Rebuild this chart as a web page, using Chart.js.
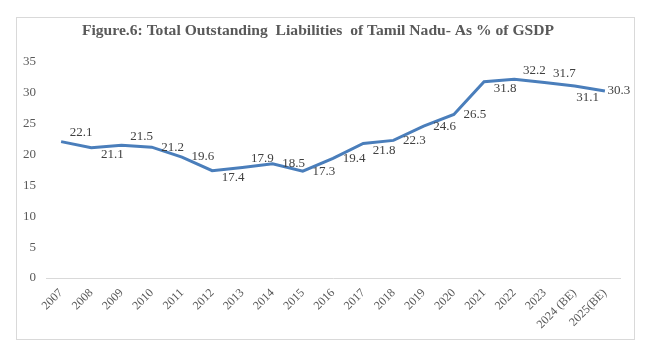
<!DOCTYPE html>
<html>
<head>
<meta charset="utf-8">
<script src="https://cdn.jsdelivr.net/npm/chart.js@4.4.1/dist/chart.umd.min.js"></script>
<style>
  html, body { margin: 0; padding: 0; background: #ffffff; }
  #wrap { position: relative; width: 653px; height: 357px; }
</style>
</head>
<body>
<div id="wrap"><canvas id="c" width="653" height="357"></canvas></div>
<script>
const categories = ['2007','2008','2009','2010','2011','2012','2013','2014','2015','2016','2017','2018','2019','2020','2021','2022','2023','2024 (BE)','2025(BE)'];
const liabilities = [22.1, 21.1, 21.5, 21.2, 19.6, 17.4, 17.9, 18.5, 17.3, 19.4, 21.8, 22.3, 24.6, 26.5, 31.8, 32.2, 31.7, 31.1, 30.3];
const valueLabels = ['22.1','21.1','21.5','21.2','19.6','17.4','17.9','18.5','17.3','19.4','21.8','22.3','24.6','26.5','31.8','32.2','31.7','31.1','30.3'];
const labelPlacement = ['ar','br','ar','r','r','br','ar','r','r','r','br','r','r','r','br','ar','ar','b','rn'];
const yTicks = [0, 5, 10, 15, 20, 25, 30, 35];
const chartTitle = 'Figure.6: Total Outstanding  Liabilities  of Tamil Nadu- As % of GSDP';

const placementOffsets = {
  r:  [21, 0],
  ar: [20, -9],
  br: [21, 7],
  b:  [13, 11],
  rn: [14, 0]
};

const borderPlugin = {
  id: 'frame',
  beforeDraw(chart) {
    const ctx = chart.ctx;
    ctx.save();
    ctx.fillStyle = '#ffffff';
    ctx.fillRect(0, 0, chart.width, chart.height);
    ctx.strokeStyle = '#d9d9d9';
    ctx.lineWidth = 1;
    ctx.strokeRect(16.5, 17.5, 618, 322);
    ctx.restore();
  }
};

const labelPlugin = {
  id: 'valueLabels',
  afterDatasetsDraw(chart) {
    const ctx = chart.ctx;
    const meta = chart.getDatasetMeta(0);
    ctx.save();
    ctx.font = '13px "Liberation Serif", "Times New Roman", serif';
    ctx.fillStyle = '#404040';
    ctx.textAlign = 'center';
    ctx.textBaseline = 'middle';
    meta.data.forEach((pt, i) => {
      const off = placementOffsets[labelPlacement[i]] || [21, 0];
      ctx.fillText(valueLabels[i], pt.x + off[0], pt.y + off[1]);
    });
    ctx.restore();
  }
};

new Chart(document.getElementById('c'), {
  type: 'line',
  data: {
    labels: categories,
    datasets: [{
      data: liabilities,
      borderColor: '#4a7ebb',
      borderWidth: 3,
      pointRadius: 0,
      pointHoverRadius: 0,
      tension: 0,
      fill: false
    }]
  },
  options: {
    responsive: false,
    animation: false,
    events: [],
    layout: { padding: { left: 16, right: 33, top: 21, bottom: 18 } },
    plugins: {
      legend: { display: false },
      tooltip: { enabled: false },
      title: {
        display: true,
        text: chartTitle,
        color: '#595959',
        font: { family: '"Liberation Serif", "Times New Roman", serif', size: 15.6, weight: 'bold', lineHeight: 1.2 },
        padding: { top: 0.5, bottom: 21.8 }
      }
    },
    scales: {
      x: {
        offset: true,
        grid: { display: false, drawTicks: false },
        border: { display: true, color: '#d9d9d9', width: 1 },
        ticks: {
          autoSkip: false,
          maxRotation: 45,
          minRotation: 45,
          padding: 8,
          color: '#595959',
          font: { family: '"Liberation Serif", "Times New Roman", serif', size: 12 }
        },
        afterFit(scale) { scale.height = 357 - 18 - 278; }
      },
      y: {
        min: 0,
        max: 35,
        grid: { display: false, drawTicks: false },
        border: { display: false },
        afterBuildTicks(scale) { scale.ticks = yTicks.map(v => ({ value: v })); },
        ticks: {
          padding: 10,
          color: '#595959',
          font: { family: '"Liberation Serif", "Times New Roman", serif', size: 13 }
        },
        afterFit(scale) { scale.width = 30; }
      }
    }
  },
  plugins: [borderPlugin, labelPlugin]
});
</script>
</body>
</html>
